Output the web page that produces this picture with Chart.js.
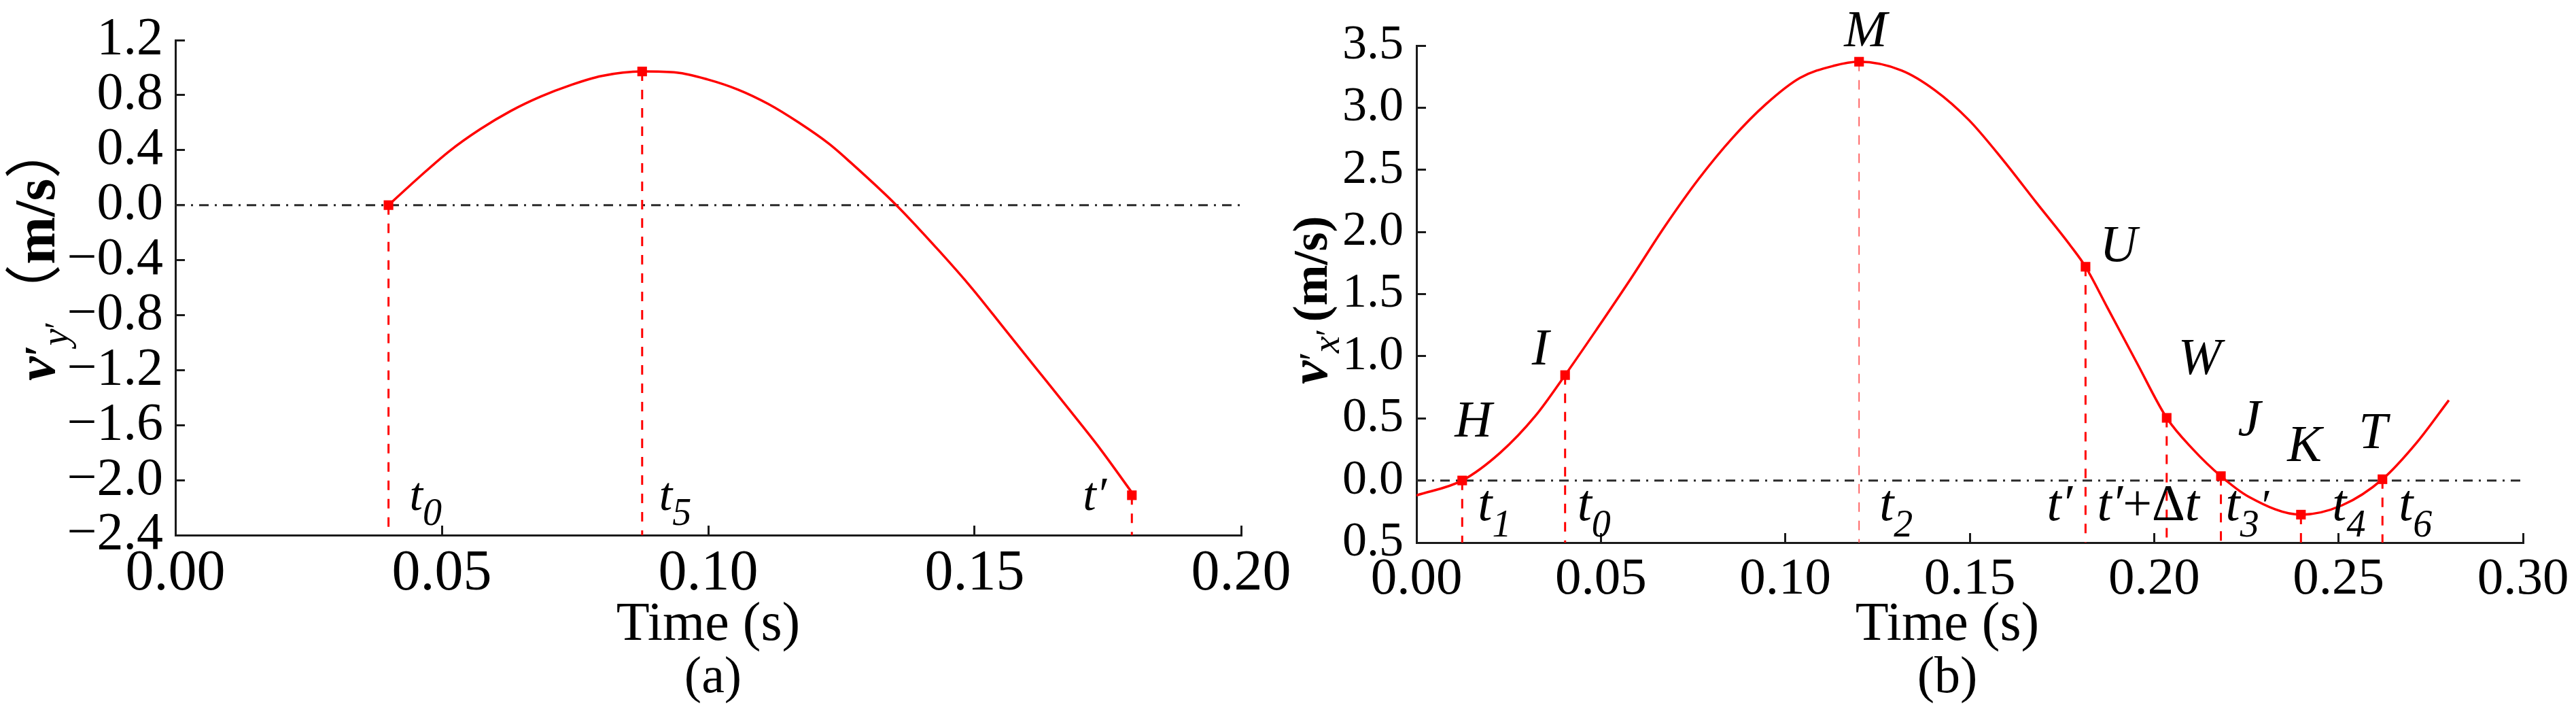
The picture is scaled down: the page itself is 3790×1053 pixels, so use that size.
<!DOCTYPE html>
<html><head><meta charset="utf-8">
<script src="https://cdn.jsdelivr.net/npm/chart.js@4.4.1/dist/chart.umd.min.js"></script>
<style>
html,body{margin:0;padding:0;background:#fff;}
body{width:3790px;height:1053px;position:relative;overflow:hidden;}
.wrap{position:absolute;top:0;height:1053px;}
</style></head><body>
<div class="wrap" style="left:0;width:1905px;"><canvas id="ca"></canvas></div>
<div class="wrap" style="left:1880px;width:1910px;"><canvas id="cb"></canvas></div>
<script>
// ---------- data: chart (a) ----------
const timeA = [0.0400,0.0458,0.0515,0.0572,0.0629,0.0686,0.0742,0.0800,0.0876,0.0941,0.0999,0.1056,0.1113,0.1170,0.1227,0.1265,0.1353,0.1435,0.1495,0.1555,0.1615,0.1676,0.1736,0.1795];
const velA  = [0.000,0.205,0.395,0.552,0.684,0.790,0.873,0.939,0.972,0.964,0.914,0.840,0.735,0.600,0.445,0.318,0.000,-0.340,-0.605,-0.895,-1.185,-1.480,-1.775,-2.090];
const markTimeA = [0.0400,0.0876,0.1795];
const markVelA  = [0.000,0.972,-2.110];
const ticksAy = ['\u22122.4','\u22122.0','\u22121.6','\u22121.2','\u22120.8','\u22120.4','0.0','0.4','0.8','1.2'];
const ticksAx = ['0.00','0.05','0.10','0.15','0.20'];

// ---------- data: chart (b) ----------
const timeB = [0.0000,0.0124,0.0228,0.0322,0.0403,0.0490,0.0581,0.0673,0.0765,0.0856,0.0948,0.1040,0.1131,0.1200,0.1315,0.1406,0.1498,0.1590,0.1681,0.1773,0.1814,0.1873,0.1954,0.2034,0.2105,0.2181,0.2257,0.2398,0.2510,0.2619,0.2712,0.2799];
const velB  = [-0.120,0.000,0.226,0.518,0.848,1.222,1.623,2.043,2.426,2.754,3.030,3.240,3.337,3.370,3.300,3.140,2.900,2.580,2.235,1.890,1.720,1.393,0.942,0.504,0.252,0.035,-0.132,-0.275,-0.199,0.010,0.305,0.646];
const markTimeB = [0.0124,0.0403,0.1200,0.1814,0.2034,0.2181,0.2398,0.2619];
const markVelB  = [0.000,0.848,3.370,1.720,0.504,0.035,-0.275,0.010];
const markNameB = ['H','I','M','U','W','J','K','T'];
const ticksBy = ['0.5','0.0','0.5','1.0','1.5','2.0','2.5','3.0','3.5'];
const ticksBx = ['0.00','0.05','0.10','0.15','0.20','0.25','0.30'];

// ---------- helpers ----------
const SERIF = '"Liberation Serif", "Noto Sans CJK SC", serif';
const CJK = '"Noto Sans CJK SC", "Noto Sans CJK JP", sans-serif';
function fnt(style, size, fam){ return (style ? style + ' ' : '') + size + 'px ' + (fam || SERIF); }
function rich(ctx, x, y, parts){
  let cx = x;
  for (const p of parts){ ctx.font = fnt(p[1], p[2], p[5]); ctx.fillText(p[0], cx, y + (p[3]||0)); cx += ctx.measureText(p[0]).width + (p[4]||0); }
}
function centered(ctx, text, style, size, x, y){ ctx.font = fnt(style, size); const w = ctx.measureText(text).width; ctx.fillText(text, x - w/2, y); }
function pts(ts, vs){ return ts.map((t,i)=>({x:t, y:vs[i]})); }
const tsub = (s, big, small, dy) => [['t','italic',big,0],[s,'italic',small,dy]];

function baseDatasets(curveT, curveV, markT, markV, xMax, yMin, thinIdx){
  const ds = [];
  ds.push({data: pts(markT, markV), showLine:false, pointStyle:'rect', pointRadius:10, pointBackgroundColor:'#ff0000', pointBorderWidth:0, order:0});
  ds.push({data: pts(curveT, curveV), borderColor:'#ff0000', borderWidth:3.5, pointRadius:0, cubicInterpolationMode:'monotone', order:1});
  markT.forEach((t,i)=>{
    const thin = i === thinIdx;
    ds.push({data:[{x:t,y:markV[i]},{x:t,y:yMin}], borderColor: thin ? '#ff5a5a' : '#ff0000', borderWidth: thin ? 1.8 : 3, borderDash:[14,13], pointRadius:0, order:2});
  });
  ds.push({data:[{x:0,y:0},{x:xMax,y:0}], borderColor:'#2a2a2a', borderWidth:3, borderDash:[14,9,3,9], pointRadius:0, order:3});
  return ds;
}

function scalesCfg(o){
  return {
    x:{type:'linear', min:0, max:o.xMax,
       afterFit(s){ s.height = o.xH; s.paddingLeft = 0; s.paddingRight = 0; },
       border:{display:true, color:'#1a1a1a', width:3},
       grid:{display:true, drawOnChartArea:false, drawTicks:true, tickLength:-14, color:'#1a1a1a', lineWidth:3},
       ticks:{stepSize:0.05, padding:o.xPad, color:'#000', font:{family:'Liberation Serif', size:o.xFont}, maxRotation:0, autoSkip:false, callback:(v,i)=>o.xLabels[i]}},
    y:{type:'linear', min:o.yMin, max:o.yMax,
       afterFit(s){ s.width = o.yW; s.paddingTop = 0; s.paddingBottom = 0; },
       border:{display:true, color:'#1a1a1a', width:3},
       grid:{display:true, drawOnChartArea:false, drawTicks:true, tickLength:-14, color:'#1a1a1a', lineWidth:3},
       ticks:{stepSize:o.yStep, padding:o.yPad, color:'#000', font:{family:'Liberation Serif', size:o.yFont}, autoSkip:false, callback:(v,i)=>o.yLabels[i]}}
  };
}

// ---------- chart (a) ----------
const textA = {id:'textA', afterDraw(chart){
  const ctx = chart.ctx, xs = chart.scales.x, ca = chart.chartArea;
  ctx.save(); ctx.fillStyle = '#000'; ctx.textAlign = 'left'; ctx.textBaseline = 'alphabetic';
  const mx = i => xs.getPixelForValue(markTimeA[i]);
  const by = ca.bottom - 37;
  rich(ctx, mx(0)+31, by, tsub('0',70,56,22));
  rich(ctx, mx(1)+25, by, tsub('5',70,56,22));
  rich(ctx, mx(2)-72, by, [['t\u2032','italic',70,0]]);
  const cx = (ca.left+ca.right)/2;
  centered(ctx, 'Time (s)', '', 80, cx, 941);
  centered(ctx, '(a)', '', 76, cx+7, 1018);
  ctx.save(); ctx.translate(80, 560); ctx.rotate(-Math.PI/2);
  rich(ctx, 0, 0, [['v','italic bold',80,0],['\u2032','bold',64,0,-2],['y','italic',56,20],['\u2032','',50,20],
                   ['\uFF08','',84,0,0,CJK],['m/s','bold',84,0],['\uFF09','',84,0,0,CJK]]);
  ctx.restore();
  ctx.restore();
}};
new Chart(document.getElementById('ca'), {
  type:'line',
  data:{datasets: baseDatasets(timeA, velA, markTimeA, markVelA, 0.2, -2.4, -1)},
  options:{animation:false, responsive:true, maintainAspectRatio:false, events:[],
    layout:{padding:{left:0, right:79, top:59, bottom:0}},
    plugins:{legend:{display:false}, tooltip:{enabled:false}},
    scales: scalesCfg({xMax:0.2, xH:266, xPad:22, xFont:84, xLabels:ticksAx, yMin:-2.4, yMax:1.2, yStep:0.4, yW:258, yPad:32, yFont:78, yLabels:ticksAy})},
  plugins:[textA]
});

// ---------- chart (b) ----------
const textB = {id:'textB', afterDraw(chart){
  const ctx = chart.ctx, xs = chart.scales.x, ys = chart.scales.y, ca = chart.chartArea;
  ctx.save(); ctx.fillStyle = '#000'; ctx.textAlign = 'left'; ctx.textBaseline = 'alphabetic';
  const mx = i => xs.getPixelForValue(markTimeB[i]);
  const my = i => ys.getPixelForValue(markVelB[i]);
  const off = [[-11,-65],[-49,-16],[-22,-23],[21,-8],[17,-65],[25,-60],[-20,-79],[-35,-46]];
  markNameB.forEach((n,i)=>{ rich(ctx, mx(i)+off[i][0], my(i)+off[i][1], [[n,'italic',76,0]]); });
  const by = ca.bottom - 33;
  rich(ctx, mx(0)+23, by, tsub('1',76,56,24));
  rich(ctx, mx(1)+18, by, tsub('0',76,56,24));
  rich(ctx, mx(2)+30, by, tsub('2',76,56,24));
  rich(ctx, mx(3)-57, by, [['t\u2032','italic',76,0]]);
  rich(ctx, mx(3)+17, by, [['t\u2032','italic',76,0],['+\u0394','',76,0],['t','italic',76,0]]);
  rich(ctx, mx(5)+7, by, [['t','italic',76,0],['3','italic',56,24],['\u2032','italic',66,0]]);
  rich(ctx, mx(6)+46, by, tsub('4',76,56,24));
  rich(ctx, mx(7)+24, by, tsub('6',76,56,24));
  const cx = (ca.left+ca.right)/2 - 33;
  centered(ctx, 'Time (s)', '', 80, cx, 941);
  centered(ctx, '(b)', '', 76, cx, 1018);
  ctx.save(); ctx.translate(72, 565); ctx.rotate(-Math.PI/2);
  rich(ctx, 0, 0, [['v','italic bold',78,0],['\u2032','',60,0,-2],['x','italic',56,18],['\u2032','',50,18],[' ','',40,0],['(m/s)','bold',72,0]]);
  ctx.restore();
  ctx.restore();
}};
new Chart(document.getElementById('cb'), {
  type:'line',
  data:{datasets: baseDatasets(timeB, velB, markTimeB, markVelB, 0.3, -0.5, 2)},
  options:{animation:false, responsive:true, maintainAspectRatio:false, events:[],
    layout:{padding:{left:0, right:78, top:67, bottom:0}},
    plugins:{legend:{display:false}, tooltip:{enabled:false}},
    scales: scalesCfg({xMax:0.3, xH:255, xPad:23, xFont:77, xLabels:ticksBx, yMin:-0.5, yMax:3.5, yStep:0.5, yW:204, yPad:33, yFont:72, yLabels:ticksBy})},
  plugins:[textB]
});
</script>
</body></html>
